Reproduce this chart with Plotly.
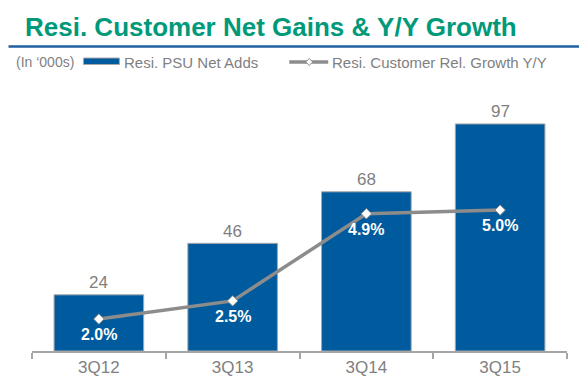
import plotly.graph_objects as go

categories = ["3Q12", "3Q13", "3Q14", "3Q15"]
net_adds = [24, 46, 68, 97]
growth = [2.0, 2.5, 4.9, 5.0]
growth_labels = ["2.0%", "2.5%", "4.9%", "5.0%"]

# page body has an 8px default margin; figure is sized/offset to compensate
OFF = 8
W, H = 587 - OFF, 392 - OFF
PL, PR, PT, PB = 31.5, 567, 75, 351   # plot area in page pixels
L, R, T, B = PL - OFF, W - (PR - OFF), PT - OFF, H - (PB - OFF)
PW, PH = W - L - R, H - T - B

def px(x):
    return (x - OFF - L) / PW

def py(y):
    return (H - B - (y - OFF)) / PH

BLUE = "#005B9E"
GRAY = "#8C8C8C"
TXT = "#7F7F7F"
GREEN = "#009A7A"
FONT = "Liberation Sans, Arial, sans-serif"

fig = go.Figure()
fig.add_trace(go.Bar(
    x=categories, y=net_adds, marker=dict(color=BLUE, line=dict(color="#A8A8A8", width=1)),
    width=0.67, showlegend=False, hoverinfo="skip"))
fig.add_trace(go.Scatter(
    x=categories, y=growth, yaxis="y2", mode="lines+markers",
    line=dict(color=GRAY, width=3.5),
    marker=dict(symbol="diamond", size=8, color="white", line=dict(color=GRAY, width=1)),
    showlegend=False, hoverinfo="skip"))

ann = []
for c, v in zip(categories, net_adds):
    ann.append(dict(x=c, y=v, xref="x", yref="y", text=str(v), showarrow=False,
                    yanchor="middle", yshift=12, font=dict(size=17, color=TXT, family=FONT)))
for c, v, t in zip(categories, growth, growth_labels):
    ann.append(dict(x=c, y=v, xref="x", yref="y2", text="<b>" + t + "</b>", showarrow=False,
                    yanchor="middle", yshift=-15.5, font=dict(size=16, color="white", family=FONT)))

# title
ann.append(dict(x=px(22), y=py(27), xref="paper", yref="paper", xanchor="left", yanchor="middle",
                text="<b>Resi. Customer Net Gains &amp; Y/Y Growth</b>", showarrow=False,
                font=dict(size=26, color=GREEN, family=FONT)))
# legend texts
ann.append(dict(x=px(13), y=py(62), xref="paper", yref="paper", xanchor="left", yanchor="middle",
                text="(In \u2018000s)", showarrow=False, font=dict(size=14, color=TXT, family=FONT)))
ann.append(dict(x=px(122), y=py(62), xref="paper", yref="paper", xanchor="left", yanchor="middle",
                text="Resi. PSU Net Adds", showarrow=False, font=dict(size=15, color=TXT, family=FONT)))
ann.append(dict(x=px(330), y=py(62), xref="paper", yref="paper", xanchor="left", yanchor="middle",
                text="Resi. Customer Rel. Growth Y/Y", showarrow=False, font=dict(size=15, color=TXT, family=FONT)))

shapes = [
    dict(type="line", xref="paper", yref="paper", x0=px(8), x1=px(586), y0=py(46.5), y1=py(46.5),
         line=dict(color="#1F5FA0", width=2.5)),
    dict(type="rect", xref="paper", yref="paper", x0=px(83), x1=px(119), y0=py(58), y1=py(64.5),
         fillcolor=BLUE, line=dict(color="#A8A8A8", width=1)),
    dict(type="line", xref="paper", yref="paper", x0=px(289), x1=px(328), y0=py(62), y1=py(62),
         line=dict(color=GRAY, width=3.5)),
    dict(type="path", xref="paper", yref="paper",
         path=f"M {px(305.5)} {py(62)} L {px(309)} {py(58.5)} L {px(312.5)} {py(62)} L {px(309)} {py(65.5)} Z",
         fillcolor="white", line=dict(color=GRAY, width=1)),
]

fig.update_layout(
    width=W, height=H, margin=dict(l=L, r=R, t=T, b=B),
    paper_bgcolor="white", plot_bgcolor="white",
    xaxis=dict(range=[-0.5, 3.5], showline=True, linecolor="#A6A6A6", linewidth=1.5,
               ticks="outside", tickson="boundaries", ticklen=6, tickcolor="#A6A6A6", tickwidth=1.5,
               tickfont=dict(size=17, color=TXT, family=FONT), showgrid=False),
    yaxis=dict(range=[0, 117.9], visible=False, showgrid=False),
    yaxis2=dict(range=[1.12, 8.72], overlaying="y", visible=False, showgrid=False),
    annotations=ann, shapes=shapes, showlegend=False,
)
fig.write_html("out.html")
